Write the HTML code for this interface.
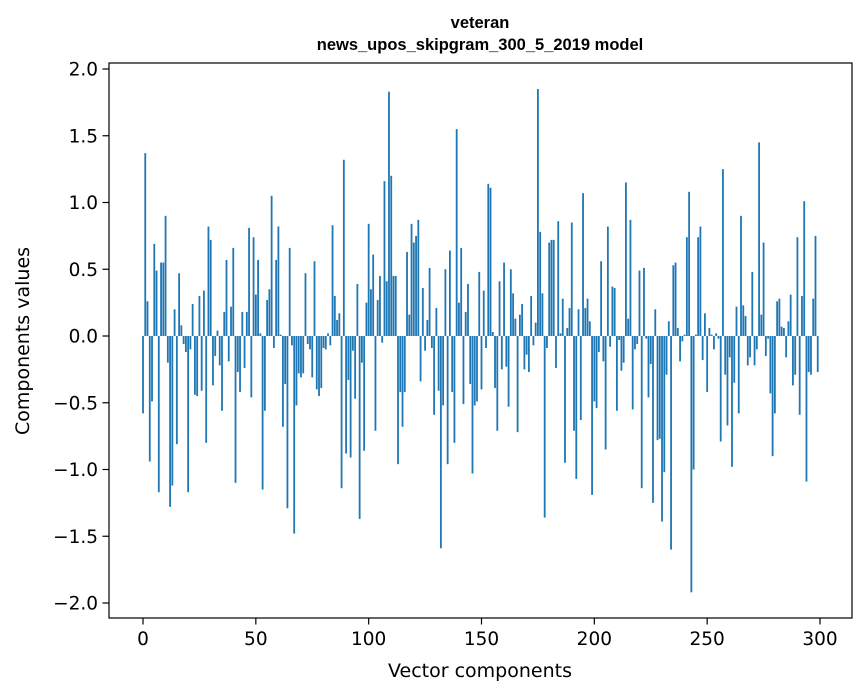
<!DOCTYPE html>
<html><head><meta charset="utf-8"><style>
html,body{margin:0;padding:0;background:#fff;}
svg{display:block;font-family:"DejaVu Sans","Liberation Sans",sans-serif;}
</style></head><body>
<svg id="chart" width="867" height="696" viewBox="0 0 867 696" xmlns="http://www.w3.org/2000/svg">
<rect width="867" height="696" fill="#fff"/>
<text x="480" y="28" text-anchor="middle" font-size="16.5" font-weight="bold" font-family="Liberation Sans, sans-serif">veteran</text>
<text x="480" y="50" text-anchor="middle" font-size="16.5" font-weight="bold" font-family="Liberation Sans, sans-serif">news_upos_skipgram_300_5_2019 model</text>
<g id="bars"></g>
<g id="axes"></g>
<text x="480" y="677" text-anchor="middle" font-size="19">Vector components</text>
<text transform="translate(29,341) rotate(-90)" text-anchor="middle" font-size="19">Components values</text>
</svg>
<script>
const values = [-0.58,1.37,0.26,-0.94,-0.49,0.69,0.49,-1.17,0.55,0.55,0.90,-0.20,-1.28,-1.12,0.20,-0.81,0.47,0.08,-0.06,-0.12,
-1.17,-0.10,0.24,-0.44,-0.45,0.30,-0.41,0.34,-0.80,0.82,0.72,-0.37,-0.15,0.04,-0.22,-0.56,0.18,0.57,-0.19,0.22,
0.66,-1.10,-0.27,-0.42,0.18,-0.24,0.18,0.81,-0.46,0.74,0.31,0.57,0.02,-1.15,-0.56,0.27,0.35,1.05,-0.09,0.57,
0.82,0.01,-0.68,-0.36,-1.29,0.66,-0.07,-1.48,-0.52,-0.28,-0.31,-0.28,0.47,-0.06,-0.10,-0.31,0.56,-0.40,-0.45,-0.39,
-0.09,-0.10,0.02,-0.07,0.83,0.30,0.12,0.17,-1.14,1.32,-0.88,-0.33,-0.91,-0.11,-0.47,0.39,-1.37,-0.20,-0.86,0.25,
0.84,0.35,0.61,-0.71,0.27,0.45,-0.05,1.16,0.41,1.83,1.20,0.45,0.45,-0.96,-0.42,-0.68,-0.42,0.63,0.16,0.84,
0.70,0.75,0.87,-0.34,0.36,-0.11,0.12,0.51,-0.09,-0.59,0.21,-0.41,-1.59,-0.52,0.50,-0.96,0.64,-0.42,-0.80,1.55,
0.25,0.66,-0.51,0.18,0.39,-0.36,-1.03,-0.52,-0.49,0.48,-0.40,0.34,-0.09,1.14,1.11,0.03,-0.39,-0.71,0.41,-0.25,
0.55,-0.23,-0.53,0.50,0.32,0.13,-0.72,0.16,0.24,-0.25,-0.14,-0.27,0.30,-0.07,0.10,1.85,0.78,0.32,-1.36,-0.09,
0.70,0.72,0.72,-0.24,0.86,0.02,0.28,-0.95,0.06,0.21,0.85,-0.71,-1.07,0.20,-0.63,1.07,0.21,0.28,0.11,-1.19,
-0.49,-0.54,-0.12,0.56,-0.19,-0.85,0.82,-0.08,0.37,0.36,-0.56,-0.03,-0.26,-0.20,1.15,0.13,0.87,-0.55,-0.10,-0.06,
0.49,-1.14,0.51,-0.02,-0.46,-0.21,-1.25,0.20,-0.78,-0.77,-1.39,-1.02,-0.29,0.11,-1.60,0.53,0.55,0.06,-0.19,-0.04,
0.01,0.74,1.08,-1.92,-1.00,0.01,0.74,0.82,-0.18,0.17,-0.42,0.06,0.01,-0.10,0.02,-0.02,-0.79,1.25,-0.29,-0.67,
-0.16,-0.98,-0.35,0.22,-0.58,0.90,0.23,0.15,-0.22,-0.16,0.48,-0.22,-0.10,1.45,0.16,0.70,-0.15,-0.02,-0.43,-0.90,
-0.58,0.26,0.28,0.07,0.06,-0.16,0.11,0.31,-0.37,-0.29,0.74,-0.59,0.30,1.01,-1.09,-0.27,-0.29,0.28,0.75,-0.27];
const yTicks = [-2.0,-1.5,-1.0,-0.5,0.0,0.5,1.0,1.5,2.0];
const xTicks = [0,50,100,150,200,250,300];

const NS = "http://www.w3.org/2000/svg";
const L = 109, R = 852, T = 63, B = 618;
function xs(i){ return 143 + (820 - 143) * i / 300; }
function ys(v){ return 336 - 133.5 * v; }
const bw = 0.8 * (xs(1) - xs(0));
const bars = document.getElementById('bars');
values.forEach((v, i) => {
  const r = document.createElementNS(NS, 'rect');
  r.setAttribute('x', xs(i) - bw / 2);
  r.setAttribute('y', Math.min(ys(v), ys(0)));
  r.setAttribute('width', bw);
  r.setAttribute('height', Math.abs(ys(v) - ys(0)));
  r.setAttribute('fill', '#1f77b4');
  
  
  bars.appendChild(r);
});
const axes = document.getElementById('axes');
const frame = document.createElementNS(NS, 'rect');
frame.setAttribute('x', L); frame.setAttribute('y', T);
frame.setAttribute('width', R - L); frame.setAttribute('height', B - T);
frame.setAttribute('fill', 'none'); frame.setAttribute('stroke', '#000'); frame.setAttribute('stroke-width', '1.2');


axes.appendChild(frame);
function fmt(v){ const s = v.toFixed(1); return v < 0 ? '\u2212' + s.slice(1) : s; }
yTicks.forEach(v => {
  const y = ys(v);
  const ln = document.createElementNS(NS, 'line');
  ln.setAttribute('x1', L - 6.5); ln.setAttribute('x2', L); ln.setAttribute('y1', y); ln.setAttribute('y2', y);
  ln.setAttribute('stroke', '#000'); ln.setAttribute('stroke-width', '1.2');
  
  
  axes.appendChild(ln);
  const t = document.createElementNS(NS, 'text');
  t.setAttribute('x', L - 11); t.setAttribute('y', y + 6.5);
  t.setAttribute('text-anchor', 'end'); t.setAttribute('font-size', '18.5');
  t.textContent = fmt(v);
  
  
  axes.appendChild(t);
});
xTicks.forEach(v => {
  const x = xs(v);
  const ln = document.createElementNS(NS, 'line');
  ln.setAttribute('x1', x); ln.setAttribute('x2', x); ln.setAttribute('y1', B); ln.setAttribute('y2', B + 6.5);
  ln.setAttribute('stroke', '#000'); ln.setAttribute('stroke-width', '1.2');
  
  
  axes.appendChild(ln);
  const t = document.createElementNS(NS, 'text');
  t.setAttribute('x', x); t.setAttribute('y', B + 27);
  t.setAttribute('text-anchor', 'middle'); t.setAttribute('font-size', '18.5');
  t.textContent = String(v);
  
  
  axes.appendChild(t);
});
</script>
</body></html>
